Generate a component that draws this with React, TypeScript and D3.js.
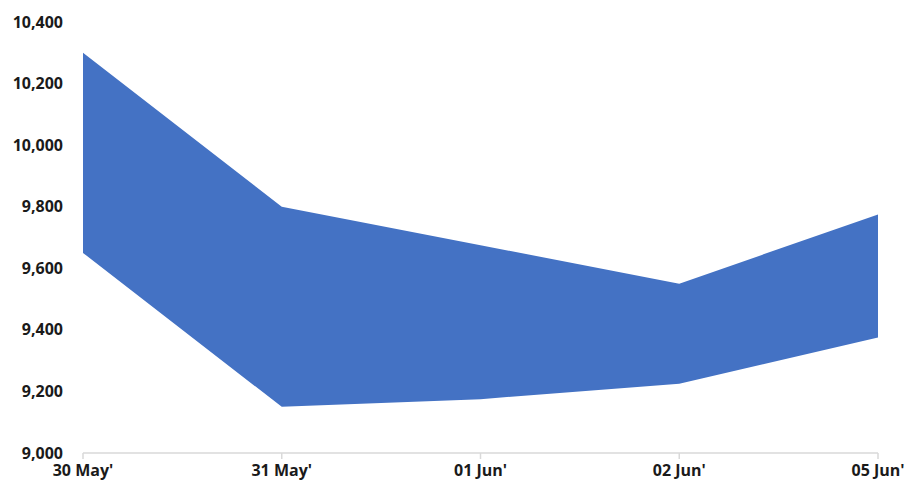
import React from "react";
import * as d3 from "d3";

const categories = ["30 May'", "31 May'", "01 Jun'", "02 Jun'", "05 Jun'"];
const highValues = [10300, 9800, 9675, 9550, 9775];
const lowValues = [9650, 9150, 9175, 9225, 9375];
const yTicks = [9000, 9200, 9400, 9600, 9800, 10000, 10200, 10400];

const W = 907;
const H = 491;
const margin = { left: 83, right: 29, top: 22, bottom: 38 };

export default function App() {
  const x = d3
    .scalePoint<string>()
    .domain(categories)
    .range([margin.left, W - margin.right]);
  const y = d3
    .scaleLinear()
    .domain([9000, 10400])
    .range([H - margin.bottom, margin.top]);

  const rows = categories.map((c, i) => ({ c, hi: highValues[i], lo: lowValues[i] }));
  const area = d3
    .area<{ c: string; hi: number; lo: number }>()
    .x((d) => x(d.c) as number)
    .y0((d) => y(d.lo))
    .y1((d) => y(d.hi));

  const fmt = d3.format(",");
  const font = "Liberation Sans Narrow, 'Open Sans', Arial, sans-serif";
  const baseY = y(9000);

  return (
    <svg
      width={W}
      height={H}
      style={{ position: "absolute", left: 0, top: 0, background: "#fff" }}
    >
      <path d={area(rows) ?? ""} fill="#4472C4" />
      <line x1={margin.left} x2={W - margin.right} y1={baseY} y2={baseY} stroke="#d9d9d9" strokeWidth={1.5} />
      {categories.map((c) => (
        <g key={c} transform={`translate(${x(c)},0)`}>
          <line y1={baseY} y2={baseY + 6} stroke="#d9d9d9" strokeWidth={1.5} />
          <text
            y={baseY + 23}
            textAnchor="middle"
            fontFamily={font}
            fontWeight="bold"
            fontSize={16}
            fill="#1a1a1a"
          >
            {c}
          </text>
        </g>
      ))}
      {yTicks.map((t) => (
        <text
          key={t}
          x={63}
          y={y(t)}
          dy="0.35em"
          textAnchor="end"
          fontFamily={font}
          fontWeight="bold"
          fontSize={16}
          fill="#1a1a1a"
        >
          {fmt(t)}
        </text>
      ))}
    </svg>
  );
}
